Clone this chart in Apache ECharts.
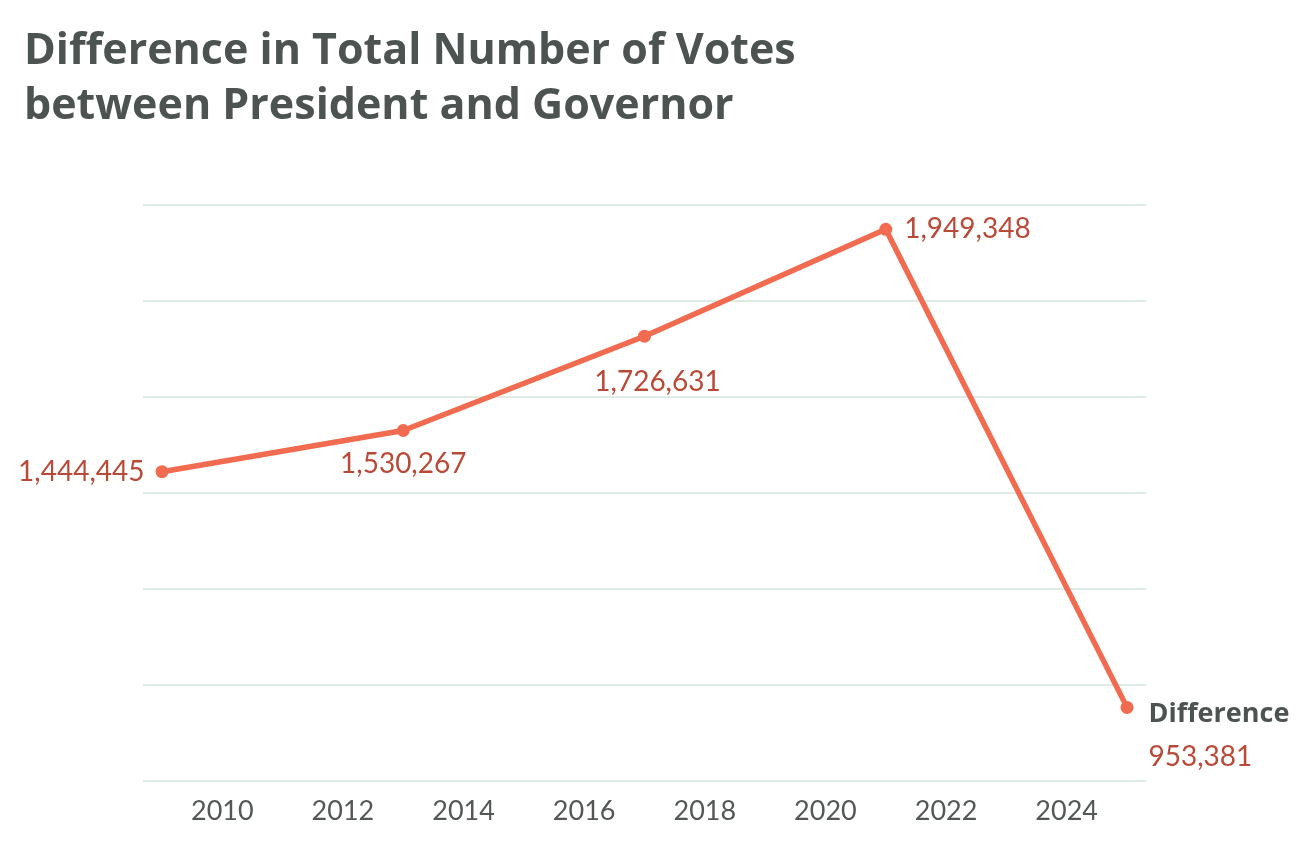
<!DOCTYPE html>
<html>
<head>
<meta charset="utf-8">
<script src="https://cdn.jsdelivr.net/npm/echarts@6/dist/echarts.min.js"></script>
<style>
  html, body { margin: 0; padding: 0; background: #fff; }
  #main { width: 1308px; height: 848px; }
</style>
</head>
<body>
<div id="main"></div>
<script>
// years of each election and the vote gap between the two races
var years = [2009, 2013, 2017, 2021, 2025];
var differences = [1444445, 1530267, 1726631, 1949348, 953381];
var seriesName = 'Difference';
var yTicks = [800000, 2000000, 200000]; // min, max, step

var labelColor = '#b84a37';
var lineColor = '#f06b4f';

function fmt(v) {
    return v.toString().replace(/\B(?=(\d{3})+(?!\d))/g, ',');
}

// where each label sits around its point
var labelSpots = [
    { position: 'left', distance: 11 },
    { position: 'bottom', distance: 13 },
    { position: 'bottom', distance: 25, offset: [13, 0] },
    { position: 'right', distance: 12 },
    { position: 'right', distance: 15, offset: [0, 28] }
];

var points = years.map(function (y, i) {
    var spot = labelSpots[i];
    var item = {
        value: [y, differences[i]],
        label: {
            show: true,
            position: spot.position,
            distance: spot.distance,
            offset: spot.offset || [0, 0]
        }
    };
    if (i === years.length - 1) {
        item.label.formatter = '{n|' + seriesName + '}\n{v|' + fmt(differences[i]) + '}';
        item.label.align = 'left';
        item.label.rich = {
            n: { fontFamily: 'Open Sans', fontWeight: 'bold', fontSize: 27, color: '#4d5351', lineHeight: 43 },
            v: { fontFamily: 'Lato', fontSize: 28, color: labelColor, lineHeight: 43 }
        };
    }
    return item;
});

var myChart = echarts.init(document.getElementById('main'));

var option = {
    animation: false,
    title: {
        text: 'Difference in Total Number of Votes\nbetween President and Governor',
        left: 19,
        top: 19,
        textStyle: {
            fontFamily: 'Open Sans',
            fontWeight: 'bold',
            fontSize: 43,
            lineHeight: 55,
            color: '#4d5351'
        }
    },
    grid: {
        left: 143,
        right: 162,
        top: 205,
        bottom: 67
    },
    xAxis: {
        type: 'value',
        min: 2008.685,
        max: 2025.315,
        minInterval: 2,
        maxInterval: 2,
        splitNumber: 8,
        axisLine: { show: false },
        axisTick: { show: false },
        splitLine: { show: false },
        axisLabel: {
            showMinLabel: false,
            showMaxLabel: false,
            margin: 17,
            fontFamily: 'Lato',
            fontSize: 27,
            color: '#535856',
            formatter: function (v) {
                return Math.round(v) === v ? String(v) : '';
            }
        }
    },
    yAxis: {
        type: 'value',
        min: yTicks[0],
        max: yTicks[1],
        interval: yTicks[2],
        axisLine: { show: false },
        axisTick: { show: false },
        axisLabel: { show: false },
        splitLine: { lineStyle: { color: '#e1ebe6', width: 2 } }
    },
    series: [
        {
            name: seriesName,
            type: 'line',
            data: points,
            symbol: 'circle',
            symbolSize: 13,
            lineStyle: { color: lineColor, width: 5.5 },
            itemStyle: { color: lineColor },
            label: {
                fontFamily: 'Lato',
                fontSize: 28,
                color: labelColor,
                formatter: function (p) { return fmt(p.value[1]); }
            }
        }
    ]
};

myChart.setOption(option);
</script>
</body>
</html>
